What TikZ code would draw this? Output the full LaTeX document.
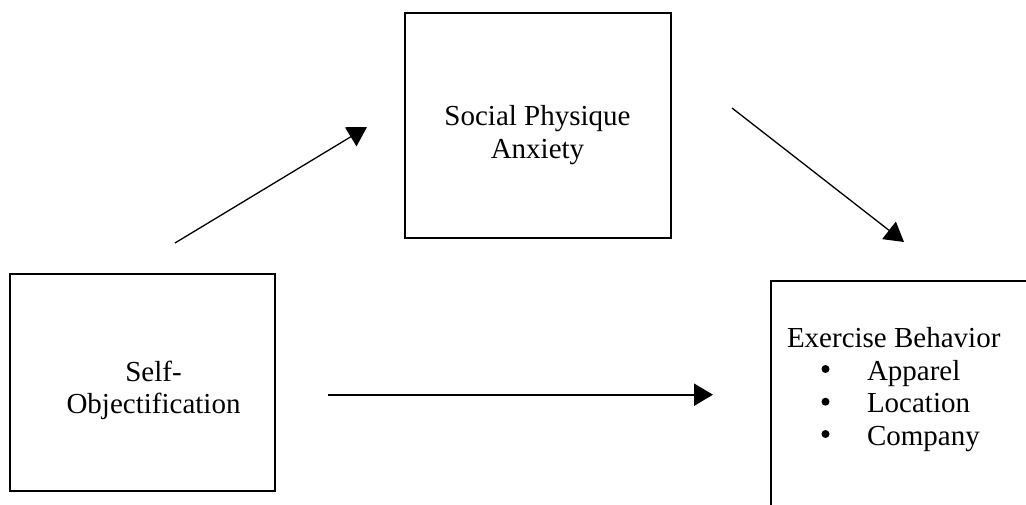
\documentclass[tikz,border=0pt]{standalone}
\usepackage{fontspec}
\setmainfont{Liberation Serif}
\usetikzlibrary{arrows.meta}
\tikzset{
  boxnode/.style={draw, line width=2pt, inner sep=0pt, outer sep=0pt},
  txt/.style={inner sep=0pt, outer sep=0pt, font=\fontsize{29}{33.5}\selectfont},
  arr/.style={-{Triangle[length=19pt,width=22pt]}, line width=1.3pt},
  thickarr/.style={-{Triangle[length=19pt,width=22pt]}, line width=2pt},
  dot/.style={circle, fill=black, inner sep=0pt, minimum size=8pt}
}
\begin{document}
\begin{tikzpicture}[x=1pt,y=1pt]
\useasboundingbox (0,0) rectangle (1026,504);
\clip (0,0) rectangle (1026,504);
\fill[white] (0,0) rectangle (1026,504);
% boxes
\node[boxnode, minimum width=265pt, minimum height=217pt] (so) at (142.5,121.5) {};
\node[boxnode, minimum width=266pt, minimum height=225pt] (spa) at (538,378.5) {};
\node[boxnode, minimum width=279pt, minimum height=243pt] (eb) at (910.5,101.5) {};
% texts
\node[txt, anchor=base] (so1) at (153.5,122.3) {Self-};
\node[txt, anchor=base] (so2) at (153.5,90.7) {Objectification};
\node[txt, anchor=base] (spa1) at (537.5,378.7) {Social Physique};
\node[txt, anchor=base] (spa2) at (537.5,345) {Anxiety};
\node[txt, anchor=base west] (eb0) at (787,157) {Exercise Behavior};
\node[dot] (d1) at (825.5,135) {};
\node[txt, anchor=base west] (eb1) at (867,124) {Apparel};
\node[dot] (d2) at (825.5,102.3) {};
\node[txt, anchor=base west] (eb2) at (867,91.3) {Location};
\node[dot] (d3) at (825.5,70) {};
\node[txt, anchor=base west] (eb3) at (867,59) {Company};
% arrow ends
\coordinate (a1s) at (175,261);
\coordinate (a1e) at (367,377);
\coordinate (a2s) at (732,396);
\coordinate (a2e) at (904,262);
\coordinate (a3s) at (328,109.3);
\coordinate (a3e) at (713,109.3);
\draw[arr] (a1s) -- (a1e);
\draw[arr] (a2s) -- (a2e);
\draw[thickarr] (a3s) -- (a3e);
\end{tikzpicture}
\end{document}
